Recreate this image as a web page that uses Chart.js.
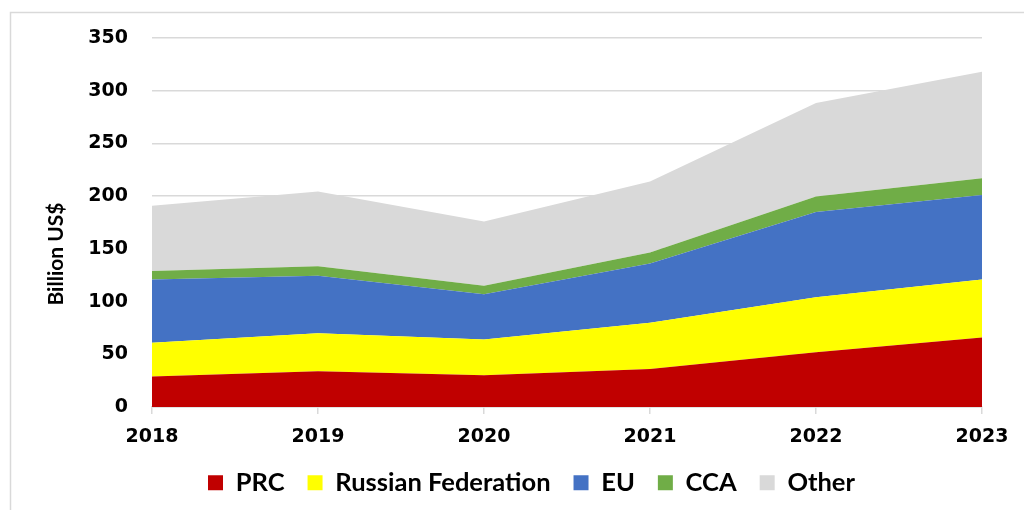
<!DOCTYPE html>
<html>
<head>
<meta charset="utf-8">
<script src="https://cdn.jsdelivr.net/npm/chart.js@4.4.0/dist/chart.umd.min.js"></script>
<style>
  html, body { margin: 0; padding: 0; background: #fff; }
  #wrap { width: 1024px; height: 510px; }
</style>
</head>
<body>
<div id="wrap"><canvas id="areaChart" width="1024" height="510"></canvas></div>
<script>
// data (billion US$)
const years = ['2018', '2019', '2020', '2021', '2022', '2023'];
const seriesNames = ['PRC', 'Russian Federation', 'EU', 'CCA', 'Other'];
const prc = [29, 34, 30, 36, 52, 66];
const russia = [32, 36, 34, 44, 52, 55];
const eu = [60, 54.5, 43, 56, 81, 80];
const cca = [8, 9, 8, 10.5, 14.6, 16];
const other = [62, 71, 61, 67.5, 88.7, 101];
const yTicks = [0, 50, 100, 150, 200, 250, 300, 350];
const yTitle = 'Billion US$';

const colors = ['#C00000', '#FFFF00', '#4472C4', '#70AD47', '#D9D9D9'];
const values = [prc, russia, eu, cca, other];

// light grey frame (only top and left edges are inside the picture)
// plus the y axis title, which sits lower than the plot centre
const framePlugin = {
  id: 'frame',
  beforeDraw(chart) {
    const c = chart.ctx;
    c.save();
    c.strokeStyle = '#d9d9d9';
    c.lineWidth = 1.5;
    c.beginPath();
    c.moveTo(10.5, 510);
    c.lineTo(10.5, 12.5);
    c.lineTo(1024, 12.5);
    c.stroke();
    c.restore();
  },
  afterDraw(chart) {
    const c = chart.ctx;
    c.save();
    c.translate(56, 254);
    c.rotate(-Math.PI / 2);
    c.font = 'bold 21px Lato';
    c.fillStyle = '#000';
    c.textAlign = 'center';
    c.textBaseline = 'middle';
    c.fillText(yTitle, 0, 0);
    c.restore();
  }
};

const ctx = document.getElementById('areaChart').getContext('2d');
new Chart(ctx, {
  type: 'line',
  data: {
    labels: years,
    datasets: seriesNames.map((name, i) => ({
      label: name,
      data: values[i],
      backgroundColor: colors[i],
      borderColor: colors[i],
      borderWidth: 0,
      pointRadius: 0,
      pointHoverRadius: 0,
      tension: 0,
      fill: i === 0 ? 'origin' : '-1',
    })),
  },
  options: {
    responsive: false,
    animation: false,
    layout: {
      padding: { left: 81, right: 42, top: 38, bottom: 7 },
    },
    plugins: {
      tooltip: { enabled: false },
      legend: {
        position: 'bottom',
        maxHeight: 56,
        labels: {
          boxWidth: 15,
          boxHeight: 15,
          padding: 23,
          color: '#000',
          font: { family: 'Lato', weight: 'bold', size: 25.5 },
        },
      },
    },
    scales: {
      x: {
        offset: false,
        grid: {
          drawOnChartArea: false,
          drawTicks: true,
          tickLength: 7,
          color: '#d9d9d9',
          lineWidth: 1.5,
        },
        border: { display: true, color: '#d9d9d9', width: 1.5 },
        ticks: {
          color: '#000',
          padding: 12,
          maxRotation: 0,
          font: { family: 'DejaVu Sans', weight: 'bold', size: 19 },
        },
        afterFit(scale) { scale.height = 40; },
      },
      y: {
        stacked: true,
        min: 0,
        max: 350,
        afterBuildTicks(scale) { scale.ticks = yTicks.map(v => ({ value: v })); },
        grid: {
          drawTicks: false,
          color: '#d9d9d9',
          lineWidth: 1.5,
        },
        border: { display: false },
        ticks: {
          color: '#000',
          padding: 24,
          font: { family: 'DejaVu Sans', weight: 'bold', size: 19 },
        },
        afterFit(scale) { scale.width = 71; },
      },
    },
  },
  plugins: [framePlugin],
});
</script>
</body>
</html>
